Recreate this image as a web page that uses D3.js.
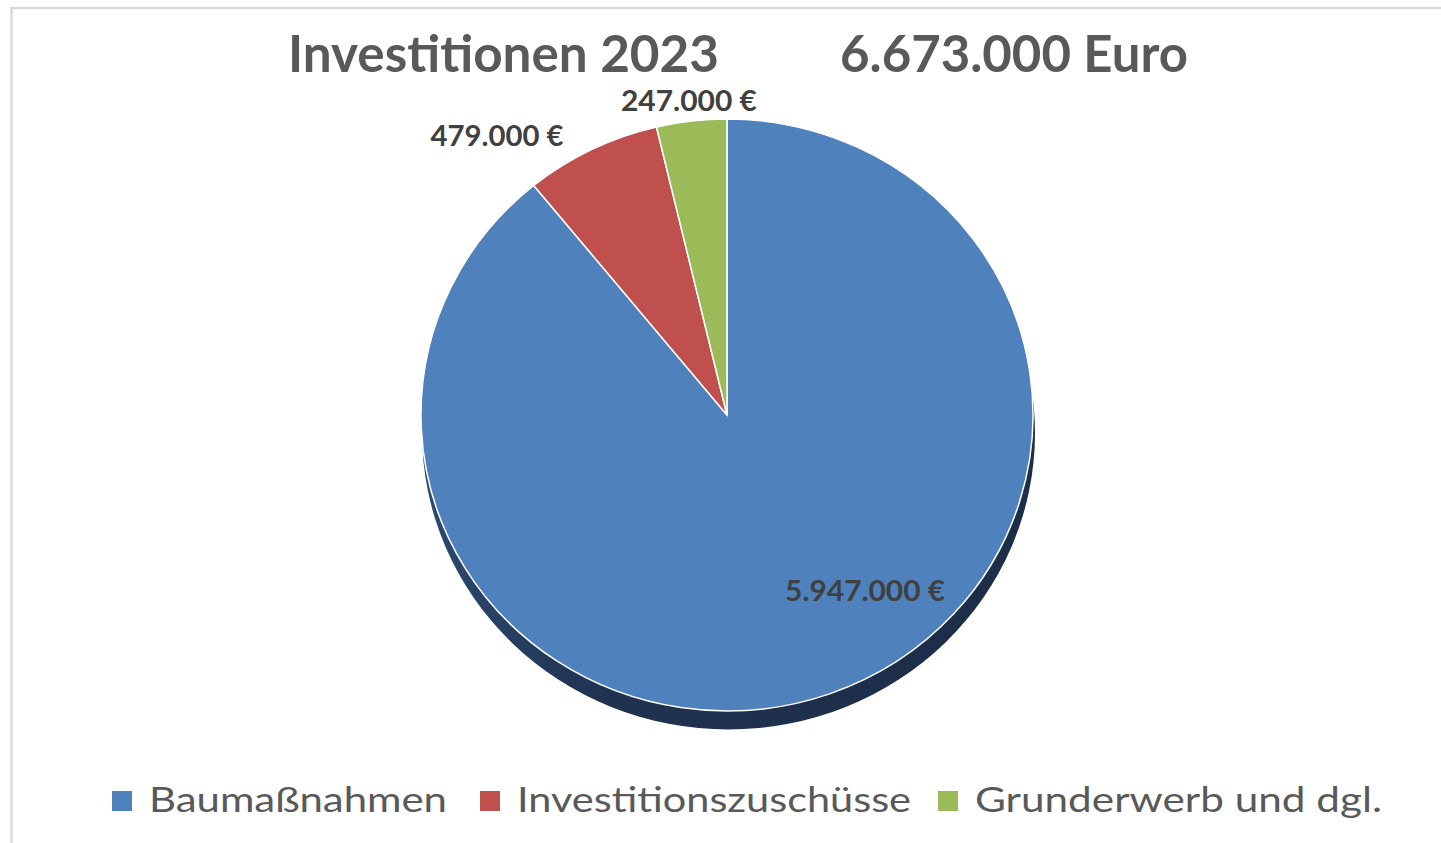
<!DOCTYPE html>
<html>
<head>
<meta charset="utf-8">
<script src="https://cdn.jsdelivr.net/npm/d3@7"></script>
<style>
  html, body { margin: 0; padding: 0; background: #fff; }
  svg { display: block; }
</style>
</head>
<body>
<svg id="chart" width="1441" height="843"></svg>
<script>
// ---- data ----
const categories = ["Baumaßnahmen", "Investitionszuschüsse", "Grunderwerb und dgl."];
const values = [5947000, 479000, 247000];
const valueLabels = ["5.947.000 €", "479.000 €", "247.000 €"];
const colors = ["#4f81bd", "#c0504d", "#9bbb59"];
const titleLeft = "Investitionen 2023";
const titleRight = "6.673.000 Euro";

// ---- layout ----
const W = 1441, H = 843;
const cx = 727, cy = 415, rx = 306, ry = 296;
const svg = d3.select("#chart");
const font = "Lato, 'Open Sans', sans-serif";

// frame border
svg.append("rect")
  .attr("x", 11.5).attr("y", 8)
  .attr("width", 1600).attr("height", 1000)
  .attr("fill", "none").attr("stroke", "#d9d9d9").attr("stroke-width", 2.5);

// title
svg.append("text").text(titleLeft)
  .attr("x", 288).attr("y", 71.5)
  .attr("font-family", font).attr("font-weight", 700).attr("font-size", 52)
  .attr("fill", "#595959")
  .attr("textLength", 431).attr("lengthAdjust", "spacingAndGlyphs");
svg.append("text").text(titleRight)
  .attr("x", 840).attr("y", 71.5)
  .attr("font-family", font).attr("font-weight", 700).attr("font-size", 52)
  .attr("fill", "#595959")
  .attr("textLength", 348).attr("lengthAdjust", "spacingAndGlyphs");

// shadow gradient
const defs = svg.append("defs");
const grad = defs.append("linearGradient").attr("id", "shadowGrad")
  .attr("x1", "0%").attr("y1", "0%").attr("x2", "100%").attr("y2", "0%");
grad.append("stop").attr("offset", "0%").attr("stop-color", "#2c4a70");
grad.append("stop").attr("offset", "30%").attr("stop-color", "#1f3250");
grad.append("stop").attr("offset", "100%").attr("stop-color", "#1c2d47");

const pieG = svg.append("g").attr("transform", `translate(${cx},${cy}) scale(1,${ry / rx})`);

// 3D-like shadow ellipse below the pie
pieG.append("circle")
  .attr("cx", 1.5).attr("cy", 18 * rx / ry)
  .attr("r", rx + 0.5)
  .attr("fill", "url(#shadowGrad)");

const pie = d3.pie().sort(null).value(d => d)(values);
const arc = d3.arc().innerRadius(0).outerRadius(rx);

pieG.selectAll("path.slice")
  .data(pie)
  .join("path")
  .attr("class", "slice")
  .attr("d", arc)
  .attr("fill", (d, i) => colors[i])
  .attr("stroke", "#ffffff")
  .attr("stroke-width", 1.5)
  .attr("vector-effect", "non-scaling-stroke");

// data labels (best-fit style placement: radius factor and angle shift per slice)
const labelPlacement = [
  { rf: 0.744, shift: -0.310 },
  { rf: 1.2085, shift: -0.213 },
  { rf: 1.072, shift: 0.0 }
];
const labelWidths = [160, 133, 136];
pie.forEach((d, i) => {
  const a = (d.startAngle + d.endAngle) / 2 + labelPlacement[i].shift;
  const r = rx * labelPlacement[i].rf;
  const x = cx + Math.sin(a) * r;
  const y = cy - Math.cos(a) * r * (ry / rx);
  svg.append("text").text(valueLabels[i])
    .attr("x", x).attr("y", y)
    .attr("text-anchor", "middle").attr("dominant-baseline", "central")
    .attr("font-family", font).attr("font-weight", 700).attr("font-size", 28)
    .attr("fill", "#404040")
    .attr("textLength", labelWidths[i]).attr("lengthAdjust", "spacingAndGlyphs");
});

// legend
const legendX = d3.scaleOrdinal().domain(categories).range([112, 480, 938]);
const legendTextW = [298, 394, 407];
const legend = svg.append("g");
categories.forEach((c, i) => {
  const x = legendX(c);
  legend.append("rect")
    .attr("x", x).attr("y", 791).attr("width", 20).attr("height", 20)
    .attr("fill", colors[i]);
  legend.append("text").text(c)
    .attr("x", x + 37).attr("y", 812)
    .attr("font-family", font).attr("font-size", 35)
    .attr("fill", "#595959")
    .attr("textLength", legendTextW[i]).attr("lengthAdjust", "spacingAndGlyphs");
});
</script>
</body>
</html>
